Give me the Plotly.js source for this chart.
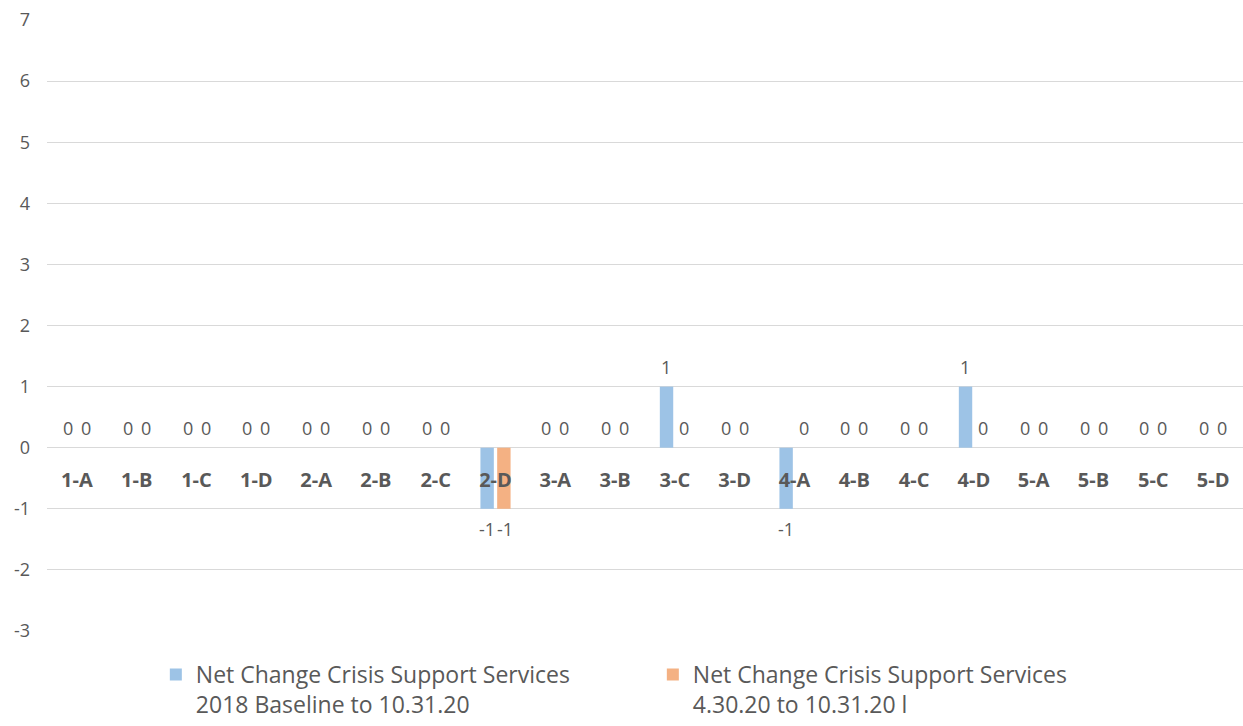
<!DOCTYPE html>
<html>
<head>
<meta charset="utf-8">
<script src="https://cdn.plot.ly/plotly-3.0.1.min.js"></script>
<style>html,body{margin:0;padding:0;background:#fff;}#chart{width:1243px;height:726px;}</style>
</head>
<body>
<div id="chart"></div>
<script>
var categories = ["1-A","1-B","1-C","1-D","2-A","2-B","2-C","2-D","3-A","3-B","3-C","3-D","4-A","4-B","4-C","4-D","5-A","5-B","5-C","5-D"];
var seriesBaseline = [0,0,0,0,0,0,0,-1,0,0,1,0,-1,0,0,1,0,0,0,0];
var seriesApril = [0,0,0,0,0,0,0,-1,0,0,0,0,0,0,0,0,0,0,0,0];
var seriesNames = ["Net Change Crisis Support Services<br>2018 Baseline to 10.31.20",
                   "Net Change Crisis Support Services<br>4.30.20 to 10.31.20 \u006C"];
var yTicks = [-3,-2,-1,0,1,2,3,4,5,6,7];

var grey = '#595959';
var fontFam = '"Open Sans", "Liberation Sans", sans-serif';

var traces = [
  {type:'bar', x:categories, y:seriesBaseline, name:seriesNames[0], marker:{color:'#9DC3E6'}, hoverinfo:'x+y'},
  {type:'bar', x:categories, y:seriesApril, name:seriesNames[1], marker:{color:'#F4B183'}, hoverinfo:'x+y'}
];

var annotations = [];
[seriesBaseline, seriesApril].forEach(function(vals, s){
  vals.forEach(function(v, i){
    annotations.push({
      x: categories[i], y: v, xref:'x', yref:'y',
      text: String(v), showarrow:false,
      xshift: s === 0 ? -9 : 9,
      yshift: v >= 0 ? 20 : -20,
      font:{family:fontFam, size:18, color:grey}
    });
  });
});

var layout = {
  width:1243, height:726,
  margin:{l:47, r:0, t:20, b:95},
  paper_bgcolor:'#fff', plot_bgcolor:'#fff',
  barmode:'group', bargap:0.44, bargroupgap:0.2,
  font:{family:fontFam, color:grey},
  xaxis:{
    type:'category', anchor:'free', position:0.3,
    showgrid:false, showline:false, zeroline:false,
    ticks:'', ticklabelstandoff:18,
    tickfont:{family:fontFam, size:20, color:grey, weight:'bold'},
    fixedrange:true
  },
  yaxis:{
    range:[-3,7], tickvals:yTicks, ticktext:yTicks.map(String),
    showgrid:true, gridcolor:'#d9d9d9', gridwidth:1,
    zeroline:true, zerolinecolor:'#d9d9d9', zerolinewidth:1,
    showline:false, ticks:'', ticklabelstandoff:16,
    tickfont:{family:fontFam, size:18, color:grey},
    fixedrange:true
  },
  showlegend:true,
  legend:{
    orientation:'h', x:0.091, xanchor:'left',
    yref:'container', y:0.1006, yanchor:'top',
    entrywidth:452, entrywidthmode:'pixels', valign:'top',
    font:{family:fontFam, size:23, color:grey},
    bgcolor:'rgba(0,0,0,0)'
  },
  annotations:annotations
};

Plotly.newPlot('chart', traces, layout, {displayModeBar:false, staticPlot:true});
</script>
</body>
</html>
